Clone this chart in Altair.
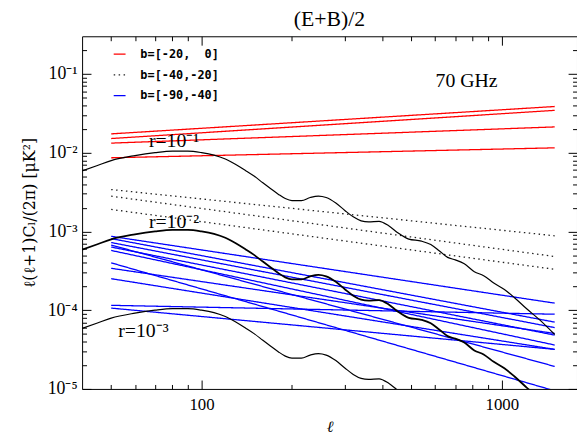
import altair as alt
import pandas as pd

# ---------------- data ----------------
groups = ["b=[-20,\u00a0\u00a00]", "b=[-40,-20]", "b=[-90,-40]"]
ell_pair = [50, 1500]

red_start = [0.0173, 0.0151, 0.0132, 0.0086]
red_end = [0.0385, 0.0344, 0.0212, 0.0115]

dot_start = [0.0034, 0.0028, 0.0019]
dot_end = [8.8e-4, 4.8e-4, 3.3e-4]

blue_start = [8.66e-4, 8.10e-4, 7.22e-4, 6.71e-4, 6.33e-4, 5.73e-4,
              3.99e-4, 3.40e-4, 2.51e-4, 1.152e-4, 1.062e-4]
blue_end = [1.228e-4, 7.05e-5, 6.01e-5, 1.93e-5, 4.82e-5, 3.61e-5,
            9.47e-6, 5.06e-5, 3.18e-5, 8.88e-5, 3.18e-5]

ell_cmb = [40, 45, 50, 60, 70, 80, 90, 100, 110, 120,
           130, 140, 150, 160, 170, 180, 190, 200, 215, 230,
           245, 260, 280, 300, 320, 340, 360, 390, 420, 450,
           490, 540, 580, 620, 660, 700, 750, 810, 870, 940,
           1020, 1100, 1210, 1340, 1500]
cl_r1 = [5.86e-3, 6.87e-3, 7.93e-3, 9.17e-3, 1.0e-2, 1.044e-2, 1.044e-2, 1.0e-2, 9.30e-3, 8.29e-3,
         7.07e-3, 5.94e-3, 5.00e-3, 4.14e-3, 3.48e-3, 2.97e-3, 2.61e-3, 2.46e-3, 2.46e-3, 2.69e-3,
         2.81e-3, 2.69e-3, 2.29e-3, 1.845e-3, 1.529e-3, 1.362e-3, 1.323e-3, 1.343e-3, 1.179e-3, 9.63e-4,
         7.98e-4, 7.53e-4, 6.81e-4, 5.64e-4, 4.68e-4, 4.35e-4, 3.88e-4, 3.08e-4, 2.74e-4, 2.21e-4,
         1.83e-4, 1.451e-4, 1.041e-4, 7.47e-5, 4.91e-5]
cl_r2 = [5.86e-4, 6.87e-4, 7.93e-4, 9.17e-4, 1.0e-3, 1.044e-3, 1.044e-3, 1.0e-3, 9.30e-4, 8.29e-4,
         7.07e-4, 5.94e-4, 5.00e-4, 4.14e-4, 3.48e-4, 2.97e-4, 2.61e-4, 2.46e-4, 2.46e-4, 2.69e-4,
         2.81e-4, 2.69e-4, 2.29e-4, 1.845e-4, 1.529e-4, 1.362e-4, 1.323e-4, 1.343e-4, 1.179e-4, 9.63e-5,
         7.98e-5, 7.53e-5, 6.81e-5, 5.64e-5, 4.68e-5, 4.35e-5, 3.88e-5, 3.08e-5, 2.74e-5, 2.21e-5,
         1.83e-5, 1.451e-5, 1.041e-5, 7.47e-6, 4.91e-6]
cl_r3 = [5.86e-5, 6.87e-5, 7.93e-5, 9.17e-5, 1.0e-4, 1.044e-4, 1.044e-4, 1.0e-4, 9.30e-5, 8.29e-5,
         7.07e-5, 5.94e-5, 5.00e-5, 4.14e-5, 3.48e-5, 2.97e-5, 2.61e-5, 2.46e-5, 2.46e-5, 2.69e-5,
         2.81e-5, 2.69e-5, 2.29e-5, 1.845e-5, 1.529e-5, 1.362e-5, 1.323e-5, 1.343e-5, 1.179e-5, 9.63e-6,
         7.98e-6, 7.53e-6, 6.81e-6, 5.64e-6, 4.68e-6, 4.35e-6, 3.88e-6, 3.08e-6, 2.74e-6, 2.21e-6,
         1.83e-6, 1.451e-6, 1.041e-6, 7.47e-7, 4.91e-7]
curve_widths = [1.2, 1.8, 1.2]

r_text = ["r=10\u207b\u00b9", "r=10\u207b\u00b2", "r=10\u207b\u00b3"]
r_text_ell = [81, 81, 64]
r_text_cl = [1.40e-2, 1.32e-3, 5.5e-5]

ghz_text = ["70 GHz"]
ghz_ell = [763]
ghz_cl = [0.080]

x_major = [100, 1000]
x_minor = [50, 60, 70, 80, 90, 200, 300, 400, 500, 600, 700, 800, 900]
y_major = [1e-5, 1e-4, 1e-3, 1e-2, 1e-1]
y_minor = [2e-5, 3e-5, 4e-5, 5e-5, 6e-5, 7e-5, 8e-5, 9e-5,
           2e-4, 3e-4, 4e-4, 5e-4, 6e-4, 7e-4, 8e-4, 9e-4,
           2e-3, 3e-3, 4e-3, 5e-3, 6e-3, 7e-3, 8e-3, 9e-3,
           2e-2, 3e-2, 4e-2, 5e-2, 6e-2, 7e-2, 8e-2, 9e-2, 2e-1]

# ---------------- tables ----------------
rows = []
for gi, (starts, ends) in enumerate([(red_start, red_end), (dot_start, dot_end), (blue_start, blue_end)]):
    for i, (s, e) in enumerate(zip(starts, ends)):
        rows.append(dict(id=f"{gi}-{i}", grp=groups[gi], ell=ell_pair[0], cl=s))
        rows.append(dict(id=f"{gi}-{i}", grp=groups[gi], ell=ell_pair[1], cl=e))
lines_df = pd.DataFrame(rows)

crows = []
for ci, vals in enumerate([cl_r1, cl_r2, cl_r3]):
    for l, v in zip(ell_cmb, vals):
        crows.append(dict(cid=ci, w=curve_widths[ci], ell=l, cl=v))
curves_df = pd.DataFrame(crows)

rtext_df = pd.DataFrame(dict(t=r_text, ell=r_text_ell, cl=r_text_cl))
ghz_df = pd.DataFrame(dict(t=ghz_text, ell=ghz_ell, cl=ghz_cl))

# ---------------- scales / axes ----------------
xs = alt.Scale(type="log", domain=[40, 1780], nice=False)
ys = alt.Scale(type="log", domain=[1e-5, 0.3], nice=False)
SERIF = "Liberation Serif"
MAJ, MIN = 9, 4.5


def axis(orient, values, size, **kw):
    base = dict(orient=orient, values=values, tickSize=size, offset=-size, domain=False,
                grid=False, labels=False, title=None, tickColor="black", tickWidth=1)
    base.update(kw)
    return alt.Axis(**base)


x_bottom = axis("bottom", x_major, MAJ, labels=True, labelFont=SERIF, labelFontSize=17,
                labelColor="black", labelPadding=8, labelExpr="format(datum.value, 'd')",
                title="\u2113", titleFont=SERIF, titleFontSize=16, titleFontWeight="normal",
                titleFontStyle="italic", titleColor="black", titlePadding=6)
y_left = axis("left", y_major, MAJ, labels=True, labelFont=SERIF, labelFontSize=18,
              labelColor="black", labelPadding=5,
              labelExpr="'10' + ['\u207b\u2075','\u207b\u2074','\u207b\u00b3','\u207b\u00b2','\u207b\u00b9'][round(log(datum.value)/LN10)+5]",
              title="\u2113(\u2113+1)C\u2097/(2\u03c0)  [\u03bcK\u00b2]", titleFont="DejaVu Serif",
              titleFontSize=16, titleFontWeight="normal", titleColor="black", titlePadding=10)

legend_kw = dict(title=None, orient="none", legendX=31, legendY=11,
                 symbolType="stroke", symbolSize=144, symbolStrokeWidth=1.3,
                 labelFont="DejaVu Sans Mono", labelFontSize=12,
                 labelFontWeight="bold", labelColor="black",
                 labelOffset=14, rowPadding=8, padding=0)

lines = alt.Chart(lines_df).mark_line(clip=True, strokeWidth=1.3).encode(
    x=alt.X("ell:Q", scale=xs, axis=x_bottom),
    y=alt.Y("cl:Q", scale=ys, axis=y_left),
    color=alt.Color("grp:N", scale=alt.Scale(domain=groups, range=["#ff0000", "#222222", "#0000ff"]),
                    legend=alt.Legend(**legend_kw)),
    strokeDash=alt.StrokeDash("grp:N", scale=alt.Scale(domain=groups, range=[[1, 0], [1.5, 3.5], [1, 0]]),
                              legend=alt.Legend(**legend_kw)),
    detail="id:N",
)

curves = alt.Chart(curves_df).mark_line(clip=True, color="black", interpolate="monotone").encode(
    x=alt.X("ell:Q", scale=xs, axis=axis("bottom", x_minor, MIN)),
    y=alt.Y("cl:Q", scale=ys, axis=axis("left", y_minor, MIN)),
    strokeWidth=alt.StrokeWidth("w:Q", scale=None),
    detail="cid:N",
)

rtext = alt.Chart(rtext_df).mark_text(font=SERIF, fontSize=20, color="black", align="center",
                                      baseline="middle").encode(
    x=alt.X("ell:Q", scale=xs, axis=axis("top", x_major, MAJ)),
    y=alt.Y("cl:Q", scale=ys, axis=axis("right", y_major, MAJ)),
    text="t:N",
)

ghz = alt.Chart(ghz_df).mark_text(font=SERIF, fontSize=20, color="black", align="center",
                                  baseline="middle").encode(
    x=alt.X("ell:Q", scale=xs, axis=axis("top", x_minor, MIN)),
    y=alt.Y("cl:Q", scale=ys, axis=axis("right", y_minor, MIN)),
    text="t:N",
)

chart = alt.layer(lines, curves, rtext, ghz).resolve_axis(
    x="independent", y="independent"
).properties(
    width=501, height=357,
    title=alt.TitleParams("(E+B)/2", font=SERIF, fontSize=22, fontWeight="normal",
                          anchor="middle", offset=5, color="black"),
    autosize=alt.AutoSizeParams(type="none"),
    padding={"left": 75, "top": 26, "right": 0, "bottom": 43},
).configure_view(stroke="black", strokeWidth=1)

chart.save("out.html", embed_options={"renderer": "svg", "actions": False})
